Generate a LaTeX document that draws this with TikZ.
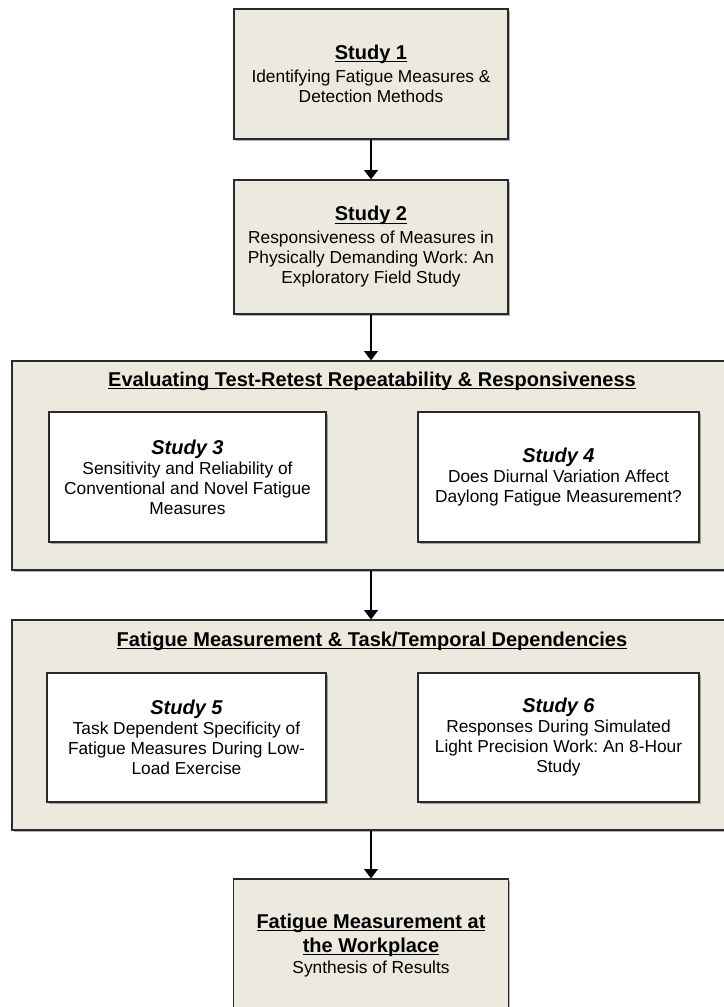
\documentclass[tikz,border=0pt]{standalone}
\usepackage{fontspec}
\setmainfont{Liberation Sans}
\usepackage{xcolor}
\usepackage{tikz}
\usetikzlibrary{arrows.meta, shadows, positioning}
\frenchspacing
\definecolor{paper}{HTML}{ECE9DF}
\definecolor{edge}{HTML}{2A2A2A}
\newcommand{\boxhead}[1]{{\fontsize{15}{18}\selectfont\bfseries\underline{\vphantom{S}\smash{#1}}}}
\newcommand{\studyhead}[1]{{\fontsize{15}{18}\selectfont\bfseries\itshape #1}}
\tikzset{
  % Riquadri dello schema
  base box/.style={rectangle,draw=edge,line width=0.8pt,align=center,inner sep=2pt,
    font=\fontsize{13}{15}\selectfont,
    drop shadow={shadow xshift=1.3pt,shadow yshift=-1.3pt,fill=black,opacity=0.3}},
  study box/.style={base box,fill=paper},
  group box/.style={base box,fill=paper},
  inner box/.style={base box,fill=white},
  group title/.style={font=\fontsize{15}{18}\selectfont\bfseries,inner sep=0pt},
  % Frecce
  flow arrow/.style={-{Triangle[length=7pt,width=10pt]},line width=2pt,black}
}
\begin{document}
\begin{tikzpicture}[x=0.75pt,y=-0.75pt]
  \useasboundingbox (0,0) rectangle (724,1007);
  % Study 1 e Study 2
  \node[study box,minimum width=205.5pt,minimum height=97.5pt] (s1) at (371,74)
    {\boxhead{Study 1}\\[2pt] Identifying Fatigue Measures \&\\ Detection Methods};
  \node[study box,minimum width=205.5pt,minimum height=100.5pt] (s2) at (371,247)
    {\boxhead{Study 2}\\[2pt] Responsiveness of Measures in\\ Physically Demanding Work: An\\ Exploratory Field Study};
  % Primo gruppo
  \node[group box,minimum width=538.5pt,minimum height=156.75pt] (g1) at (371,465.5) {};
  \node[group title] (g1t) at (372,381) {\underline{\vphantom{S}\smash{Evaluating Test-Retest Repeatability \& Responsiveness}}};
  \node[inner box,minimum width=207.75pt,minimum height=97.5pt] (s3) at (187.5,477)
    {\studyhead{Study 3}\\ Sensitivity and Reliability of\\ Conventional and Novel Fatigue\\ Measures};
  \node[inner box,minimum width=210.75pt,minimum height=97.5pt] (s4) at (558.5,477)
    {\studyhead{Study 4}\\ Does Diurnal Variation Affect\\ Daylong Fatigue Measurement?};
  % Secondo gruppo
  \node[group box,minimum width=538.5pt,minimum height=157.5pt] (g2) at (371,725) {};
  \node[group title] (g2t) at (372,641) {\underline{\vphantom{S}\smash{Fatigue Measurement \& Task/Temporal Dependencies}}};
  \node[inner box,minimum width=209.25pt,minimum height=96.75pt] (s5) at (186.5,737.5)
    {\studyhead{Study 5}\\ Task Dependent Specificity of\\ Fatigue Measures During Low-\\ Load Exercise};
  \node[inner box,minimum width=210.75pt,minimum height=96.75pt] (s6) at (558.5,737.5)
    {\studyhead{Study 6}\\ Responses During Simulated\\ Light Precision Work: An 8-Hour\\ Study};
  % Sintesi finale
  \node[study box,minimum width=206.25pt,minimum height=99.75pt] (fin) at (371,945.5)
    {\boxhead{Fatigue Measurement at}\\[3pt] \boxhead{the Workplace}\\[1pt] Synthesis of Results};
  % Collegamenti
  \draw[flow arrow] (s1) -- (s2);
  \draw[flow arrow] (s2) -- (s2.south |- g1.north);
  \draw[flow arrow] (s2.south |- g1.south) -- (s2.south |- g2.north);
  \draw[flow arrow] (s2.south |- g2.south) -- (fin);
\end{tikzpicture}
\end{document}
